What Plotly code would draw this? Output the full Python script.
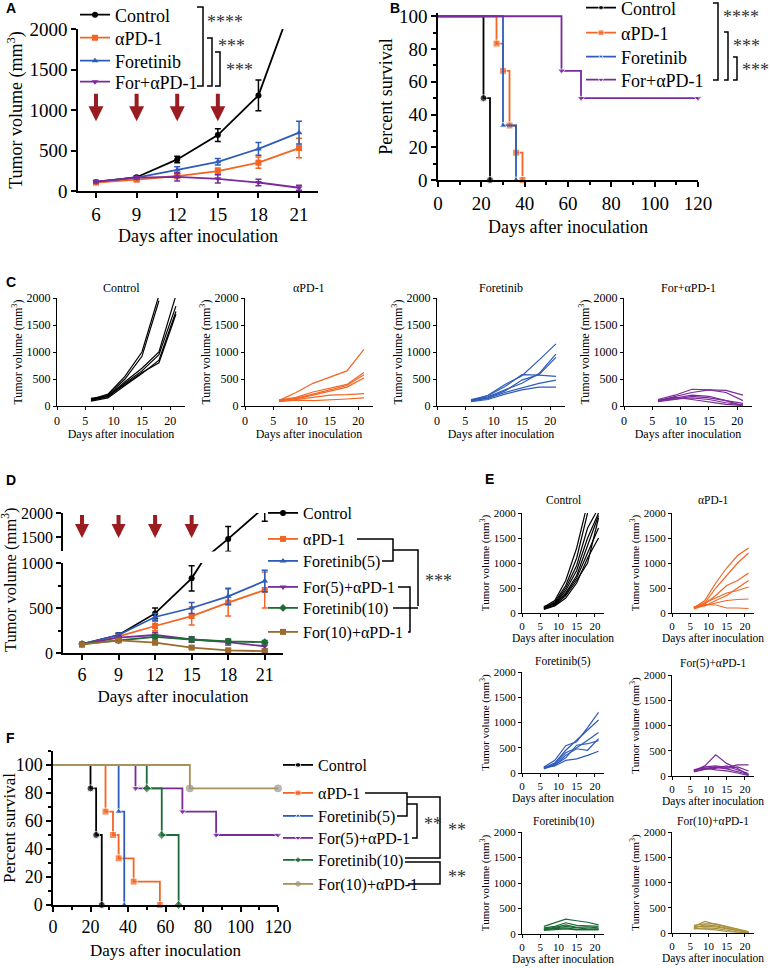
import plotly.graph_objects as go

W, H = 770, 968
SERIF = "Liberation Serif, Times New Roman, serif"
SANS = "Liberation Sans, Arial, sans-serif"

BLACK = "#000000"
ORANGE = "#f26522"
BLUE = "#2e5cb8"
PURPLE = "#7a2a9a"
GREEN = "#1d6b35"
BROWN = "#9a6a2e"
GOLD = "#a89040"
KHAKI = "#a8915a"
ARROW = "#9b1c20"

# ---------------- data ----------------
DAYS = [6, 9, 12, 15, 18, 21]
DOSE_DAYS = [6, 9, 12, 15]

# A: mean tumour volume +/- SEM
A_CTRL = [110, 170, 390, 690, 1180, 2550]
A_CTRL_ERR = [10, 15, 40, 80, 190, 300]
A_PD1 = [105, 140, 185, 245, 350, 530]
A_PD1_ERR = [10, 15, 30, 40, 70, 120]
A_FOR = [115, 165, 260, 360, 520, 720]
A_FOR_ERR = [10, 15, 40, 40, 80, 140]
A_COMBO = [115, 165, 175, 150, 105, 40]
A_COMBO_ERR = [10, 15, 50, 50, 40, 30]

# B: survival (time, percent)
B_CTRL_T, B_CTRL_S = [0, 21, 24], [100, 50, 0]
B_PD1_T, B_PD1_S = [0, 27, 30, 33, 36, 39], [100, 83.3, 66.7, 33.3, 16.7, 0]
B_FOR_T, B_FOR_S = [0, 30, 36], [100, 33.3, 0]
B_COMBO_T, B_COMBO_S = [0, 57, 66, 120], [100, 66.7, 50, 50]

# C: individual tumour curves
C_CTRL = [[120, 220, 550, 1000, 2050], [100, 200, 500, 920, 1950],
          [130, 180, 450, 700, 1000, 2050], [110, 170, 420, 650, 950, 1850],
          [90, 150, 380, 600, 850, 1750], [140, 190, 400, 620, 800, 1700]]
C_PD1 = [[100, 250, 420, 530, 650, 1050], [110, 160, 260, 330, 400, 620],
         [90, 140, 220, 300, 380, 580], [120, 130, 200, 270, 350, 520],
         [100, 120, 160, 200, 210, 230], [80, 110, 100, 110, 130, 150]]
C_FOR = [[100, 200, 400, 560, 850, 1150], [110, 170, 300, 420, 600, 960],
         [90, 150, 280, 480, 580, 900], [120, 190, 360, 580, 570, 550],
         [100, 140, 250, 330, 420, 480], [80, 120, 220, 300, 350, 350]]
C_COMBO = [[120, 200, 310, 300, 290, 200], [100, 180, 250, 300, 250, 100],
           [90, 150, 200, 180, 100, 50], [110, 130, 150, 120, 60, 20],
           [80, 120, 180, 150, 100, 0], [100, 160, 120, 80, 30, 10]]

# D: mean tumour volume +/- SEM
D_CTRL = [100, 200, 440, 830, 1460, 2130]
D_CTRL_ERR = [10, 20, 60, 140, 260, 300]
D_PD1 = [95, 185, 300, 410, 560, 700]
D_PD1_ERR = [10, 20, 50, 100, 150, 200]
D_FOR5 = [100, 200, 400, 500, 630, 800]
D_FOR5_ERR = [10, 20, 40, 60, 90, 120]
D_COMBO5 = [100, 170, 200, 150, 120, 75]
D_COMBO5_ERR = [10, 20, 30, 30, 30, 30]
D_FOR10 = [100, 140, 180, 150, 130, 120]
D_FOR10_ERR = [10, 15, 25, 25, 25, 20]
D_COMBO10 = [95, 140, 115, 60, 30, 20]
D_COMBO10_ERR = [10, 15, 20, 10, 8, 5]

# E: individual tumour curves
E_CTRL = [[120, 250, 650, 1300, 2200], [100, 220, 550, 1100, 2000],
          [90, 200, 500, 950, 1700, 2100], [110, 180, 450, 850, 1500, 2000],
          [80, 160, 400, 750, 1350, 1950], [130, 190, 380, 700, 1200, 1700],
          [70, 140, 300, 600, 1100, 1500], [100, 150, 350, 650, 1000, 1900]]
E_PD1 = [[100, 250, 600, 900, 1150, 1300], [120, 200, 500, 750, 1000, 1200],
         [90, 180, 350, 550, 650, 800], [110, 200, 300, 400, 450, 520],
         [80, 150, 200, 250, 270, 280], [100, 170, 160, 100, 100, 90],
         [120, 140, 250, 350, 500, 650]]
E_FOR5 = [[120, 250, 540, 620, 900, 1200], [100, 200, 450, 650, 850, 1050],
          [90, 180, 400, 500, 650, 800], [110, 150, 350, 480, 450, 680],
          [80, 160, 300, 550, 580, 640], [100, 140, 250, 280, 350, 430]]
E_COMBO5 = [[100, 200, 420, 250, 150, 20], [120, 180, 200, 170, 220, 220],
            [90, 150, 180, 150, 180, 100], [80, 130, 150, 200, 120, 50],
            [110, 160, 120, 100, 60, 10], [100, 140, 170, 140, 80, 30]]
E_FOR10 = [[150, 220, 290, 260, 230, 180], [120, 150, 220, 170, 160, 150],
           [100, 130, 180, 130, 140, 120], [80, 110, 150, 120, 100, 100],
           [90, 100, 120, 90, 80, 80], [70, 90, 100, 80, 90, 90]]
E_COMBO10 = [[130, 230, 170, 120, 60, 20], [150, 180, 180, 130, 80, 30],
             [100, 160, 140, 100, 50, 10], [120, 130, 120, 80, 40, 10],
             [80, 100, 90, 60, 20, 5], [90, 80, 60, 30, 10, 0]]

# F: survival (time, percent)
F_CTRL_T, F_CTRL_S = [0, 20, 23, 26], [100, 83.3, 50, 0]
F_PD1_T, F_PD1_S = [0, 28, 32, 35, 43, 57], [100, 66.7, 50, 33.3, 16.7, 0]
F_FOR5_T, F_FOR5_S = [0, 35, 38], [100, 66.7, 0]
F_COMBO5_T, F_COMBO5_S = [0, 44, 69, 87, 120], [100, 83.3, 66.7, 50, 50]
F_FOR10_T, F_FOR10_S = [0, 50, 58, 67], [100, 83.3, 50, 0]
F_COMBO10_T, F_COMBO10_S = [0, 73, 120], [100, 83.3, 83.3]

TUMOR = "Tumor volume (mm<sup>3</sup>)"
DAYS_T = "Days after inoculation"


# ---------------- helpers ----------------
def xd(x0, x1):
    return [x0 / W, x1 / W]


def yd(top, bot):
    return [1 - bot / H, 1 - top / H]


def px(x, y):
    return x / W, 1 - y / H


def axis(dom, rng, anchor, size, lw=1.5, ticklen=5, title=None, tsize=None,
         standoff=4, minor=None, **kw):
    d = dict(domain=dom, range=rng, anchor=anchor, showline=True, linecolor="black",
             linewidth=lw, ticks="outside", ticklen=ticklen, tickwidth=lw,
             tickcolor="black", showgrid=False, zeroline=False, fixedrange=True,
             tickfont=dict(family=SERIF, size=size, color="black"))
    if title:
        d["title"] = dict(text=title, standoff=standoff,
                          font=dict(family=SERIF, size=tsize or size, color="black"))
    if minor:
        d["minor"] = dict(dtick=minor, ticks="outside", ticklen=ticklen * 0.6,
                          tickwidth=lw, tickcolor="black", showgrid=False)
    d.update(kw)
    return d


def leg(text_x, y, size):
    x, yy = px(text_x - 40, y)
    return dict(x=x, y=yy, xanchor="left", yanchor="middle", bgcolor="rgba(0,0,0,0)",
                borderwidth=0, itemwidth=30, tracegroupgap=0,
                font=dict(family=SERIF, size=size, color="black"))


def label(text, x, y, size, family=SERIF, color="black", xanchor="center", angle=0):
    fx, fy = px(x, y)
    return dict(x=fx, y=fy, xref="paper", yref="paper", text=text, xanchor=xanchor,
                yanchor="middle", textangle=angle, showarrow=False,
                font=dict(family=family, size=size, color=color))


def mean_trace(y, err, color, symbol, name, xa, ya, legend=None):
    return go.Scatter(
        x=DAYS, y=y, mode="lines+markers", name=name, xaxis=xa, yaxis=ya,
        line=dict(color=color, width=1.8),
        marker=dict(symbol=symbol, size=6, color=color),
        error_y=dict(type="data", array=err, color=color, thickness=1.5, width=3),
        showlegend=legend is not None, legend=legend or "legend")


def km_trace(t, s, color, symbol, name, xa, ya, legend, mcolor=None):
    return go.Scatter(
        x=t, y=s, mode="lines+markers", line_shape="hv", name=name, xaxis=xa, yaxis=ya,
        line=dict(color=color, width=1.8),
        marker=dict(symbol=symbol, size=[0] + [7] * (len(t) - 1), color=mcolor or color),
        cliponaxis=False, legend=legend)


def spaghetti(curves, color, xa, ya):
    return [go.Scatter(x=DAYS[:len(c)], y=c, mode="lines", xaxis=xa, yaxis=ya,
                       line=dict(color=color, width=1.2), showlegend=False,
                       hoverinfo="skip") for c in curves]


fig = go.Figure()
layout = dict(width=W, height=H, margin=dict(l=0, r=0, t=0, b=0, autoexpand=False),
              paper_bgcolor="white", plot_bgcolor="white", showlegend=True,
              font=dict(family=SERIF, color="black"))
annotations, shapes = [], []

# ---------------- A ----------------
for i, (y, e, c, s, n) in enumerate([
        (A_CTRL, A_CTRL_ERR, BLACK, "circle", "Control"),
        (A_PD1, A_PD1_ERR, ORANGE, "square", "αPD-1"),
        (A_FOR, A_FOR_ERR, BLUE, "triangle-up", "Foretinib"),
        (A_COMBO, A_COMBO_ERR, PURPLE, "triangle-down", "For+αPD-1")]):
    lname = "legend" if i == 0 else f"legend{i + 1}"
    fig.add_trace(mean_trace(y, e, c, s, n, "x", "y", lname))
layout["xaxis"] = axis(xd(78, 318), [4.67, 22.4], "y", 19, title=DAYS_T, tsize=18,
                       standoff=6, tickvals=DAYS)
layout["yaxis"] = axis(yd(29, 191), [0, 2000], "x", 19, title=TUMOR, tsize=18,
                       standoff=2, dtick=500)
for i, yc in enumerate([15, 38, 61, 82]):
    key = "legend" if i == 0 else f"legend{i + 1}"
    layout[key] = leg(115, yc, 18)
for d in DOSE_DAYS:
    annotations.append(dict(x=d, y=860, ax=d, ay=1220, xref="x", yref="y", axref="x",
                            ayref="y", text="", showarrow=True, arrowhead=2,
                            arrowsize=0.75, arrowwidth=4, arrowcolor=ARROW))

# ---------------- B ----------------
for i, (t, s, c, m, n) in enumerate([
        (B_CTRL_T, B_CTRL_S, BLACK, "circle", "Control"),
        (B_PD1_T, B_PD1_S, ORANGE, "square", "αPD-1"),
        (B_FOR_T, B_FOR_S, BLUE, "triangle-up", "Foretinib"),
        (B_COMBO_T, B_COMBO_S, PURPLE, "triangle-down", "For+αPD-1")]):
    fig.add_trace(km_trace(t, s, c, m, n, "x2", "y2", f"legend{i + 5}"))
for i, yc in enumerate([8, 33, 57, 80]):
    layout[f"legend{i + 5}"] = leg(621, yc, 18)
layout["xaxis2"] = axis(xd(438, 698), [0, 120], "y2", 19, title=DAYS_T, tsize=18,
                        standoff=8, dtick=20, minor=10)
layout["yaxis2"] = axis(yd(13, 180), [0, 102], "x2", 19, title="Percent survival",
                        tsize=18, standoff=2, dtick=20, minor=10)

# ---------------- C ----------------
c_panels = [(C_CTRL, BLACK, "Control", 57), (C_PD1, ORANGE, "αPD-1", 245),
            (C_FOR, BLUE, "Foretinib", 437), (C_COMBO, PURPLE, "For+αPD-1", 624)]
for k, (curves, col, title, x0) in enumerate(c_panels):
    n = k + 3
    for tr in spaghetti(curves, col, f"x{n}", f"y{n}"):
        fig.add_trace(tr)
    layout[f"xaxis{n}"] = axis(xd(x0, x0 + 128), [0, 22.6], f"y{n}", 12, lw=1.2,
                               ticklen=3, title=DAYS_T, tsize=12, standoff=2,
                               tickvals=[0, 5, 10, 15, 20])
    layout[f"yaxis{n}"] = axis(yd(298, 406), [0, 2000], f"x{n}", 12, lw=1.2,
                               ticklen=3, title=TUMOR, tsize=12, standoff=1, dtick=500)
    annotations.append(label(title, x0 + 64, 288, 12))

# ---------------- D (broken y axis) ----------------
d_series = [(D_CTRL, D_CTRL_ERR, BLACK, "circle", "Control"),
            (D_PD1, D_PD1_ERR, ORANGE, "square", "αPD-1"),
            (D_FOR5, D_FOR5_ERR, BLUE, "triangle-up", "Foretinib(5)"),
            (D_COMBO5, D_COMBO5_ERR, PURPLE, "triangle-down", "For(5)+αPD-1"),
            (D_FOR10, D_FOR10_ERR, GREEN, "diamond", "Foretinib(10)"),
            (D_COMBO10, D_COMBO10_ERR, BROWN, "square", "For(10)+αPD-1")]
for i, (y, e, c, s, n) in enumerate(d_series):
    fig.add_trace(mean_trace(y, e, c, s, n, "x7", "y7", f"legend{i + 9}"))
fig.add_trace(mean_trace(D_CTRL, D_CTRL_ERR, BLACK, "circle", "Control", "x7", "y8"))
for i, yc in enumerate([513, 539, 561, 587, 608, 632]):
    layout[f"legend{i + 9}"] = leg(303, yc, 16)
layout["xaxis7"] = axis(xd(63, 283), [4.44, 22.5], "y7", 18, title=DAYS_T, tsize=17,
                        standoff=6, tickvals=DAYS)
layout["yaxis7"] = axis(yd(563, 653), [0, 1000], "x7", 16, dtick=500, minor=250)
layout["yaxis8"] = axis(yd(513, 551.4), [1200, 2000], "x7", 16, tickvals=[1500, 2000])
annotations.append(label(TUMOR, 9, 580, 16.5, angle=-90))
for d in DOSE_DAYS:
    annotations.append(dict(x=d, y=1480, ax=d, ay=1990, xref="x7", yref="y8",
                            axref="x7", ayref="y8", text="", showarrow=True,
                            arrowhead=2, arrowsize=0.7, arrowwidth=4, arrowcolor=ARROW))

# ---------------- E ----------------
e_panels = [(E_CTRL, BLACK, "Control", 522, 513, 613, 500),
            (E_PD1, ORANGE, "αPD-1", 672, 513, 613, 500),
            (E_FOR5, BLUE, "Foretinib(5)", 522, 672, 773, 661),
            (E_COMBO5, PURPLE, "For(5)+αPD-1", 672, 675, 776, 663),
            (E_FOR10, GREEN, "Foretinib(10)", 522, 832, 934, 821),
            (E_COMBO10, GOLD, "For(10)+αPD-1", 672, 832, 933, 821)]
for k, (curves, col, title, x0, top, bot, ty_) in enumerate(e_panels):
    n = k + 9
    for tr in spaghetti(curves, col, f"x{n}", f"y{n}"):
        fig.add_trace(tr)
    layout[f"xaxis{n}"] = axis(xd(x0, x0 + 82), [0, 22.5], f"y{n}", 11, lw=1.2,
                               ticklen=3, title=DAYS_T, tsize=11.5, standoff=1,
                               tickvals=[0, 5, 10, 15, 20])
    layout[f"yaxis{n}"] = axis(yd(top, bot), [0, 2000], f"x{n}", 11, lw=1.2,
                               ticklen=3, title=TUMOR, tsize=11, standoff=1, dtick=500)
    annotations.append(label(title, x0 + 41, ty_, 11.5))

# ---------------- F ----------------
f_series = [(F_CTRL_T, F_CTRL_S, BLACK, "circle", "Control", None),
            (F_PD1_T, F_PD1_S, ORANGE, "square", "αPD-1", None),
            (F_FOR5_T, F_FOR5_S, BLUE, "triangle-up", "Foretinib(5)", None),
            (F_COMBO5_T, F_COMBO5_S, PURPLE, "triangle-down", "For(5)+αPD-1", None),
            (F_FOR10_T, F_FOR10_S, GREEN, "diamond", "Foretinib(10)", None),
            (F_COMBO10_T, F_COMBO10_S, KHAKI, "circle", "For(10)+αPD-1", "#9a9a9a")]
for i, (t, s, c, m, n, mc) in enumerate(f_series):
    fig.add_trace(km_trace(t, s, c, m, n, "x15", "y15", f"legend{i + 15}", mc))
for i, yc in enumerate([765, 793, 816, 838, 860, 884]):
    layout[f"legend{i + 15}"] = leg(318, yc, 16)
layout["xaxis15"] = axis(xd(53, 278), [0, 120], "y15", 18, title=DAYS_T, tsize=17,
                         standoff=8, dtick=20, minor=10)
layout["yaxis15"] = axis(yd(751, 905), [0, 110], "x15", 18, title="Percent survival",
                         tsize=17, standoff=2, tickvals=[0, 20, 40, 60, 80, 100],
                         minor=10)

# ---------------- brackets & significance ----------------
brackets = [
    # A
    "M197,7 L203,7 L203,86 L197,86", "M207,38 L212,38 L212,86 L207,86",
    "M215,52 L220,52 L220,86 L215,86",
    # B
    "M713,3 L718,3 L718,80 L713,80", "M724,32 L728,32 L728,80 L724,80",
    "M733,57 L737,57 L737,80 L733,80",
    # D
    "M357,539 L393,539 L393,561 L382,561", "M393,550 L418,550 L418,606",
    "M398,587 L410,587 L410,632 L408,632", "M393,608 L418,608",
    # F
    "M365,793 L407,793 L407,816 L397,816", "M407,804 L417,804 L417,838 L412,838",
    "M407,797 L440,797 L440,858 L405,858", "M405,862 L440,862 L440,884 L408,884",
]
for p in brackets:
    pts = []
    for seg in p.split(" "):
        x, y = seg[1:].split(",")
        fx, fy = px(float(x), float(y))
        pts.append(f"{seg[0]}{fx:.5f},{fy:.5f}")
    shapes.append(dict(type="path", path=" ".join(pts), xref="paper", yref="paper",
                       line=dict(color="black", width=1.5)))

for text, x, y in [("****", 205, 22), ("***", 216, 46), ("***", 224, 70),
                   ("****", 721, 17), ("***", 731, 46), ("***", 740, 70),
                   ("***", 423, 581), ("**", 422, 824), ("**", 446, 830),
                   ("**", 446, 877)]:
    annotations.append(label(text, x, y, 18, color="#333333", xanchor="left"))

for letter, x, y in [("A", 4, 8), ("B", 388, 8), ("C", 4, 282), ("D", 4, 480),
                     ("E", 483, 479), ("F", 4, 738)]:
    annotations.append(label(f"<b>{letter}</b>", x, y, 14, family=SANS, xanchor="left"))

layout["annotations"] = annotations
layout["shapes"] = shapes
fig.update_layout(**layout)

fig.write_html("out.html", config={"displayModeBar": False},
               post_script="document.body.style.margin='0';")
